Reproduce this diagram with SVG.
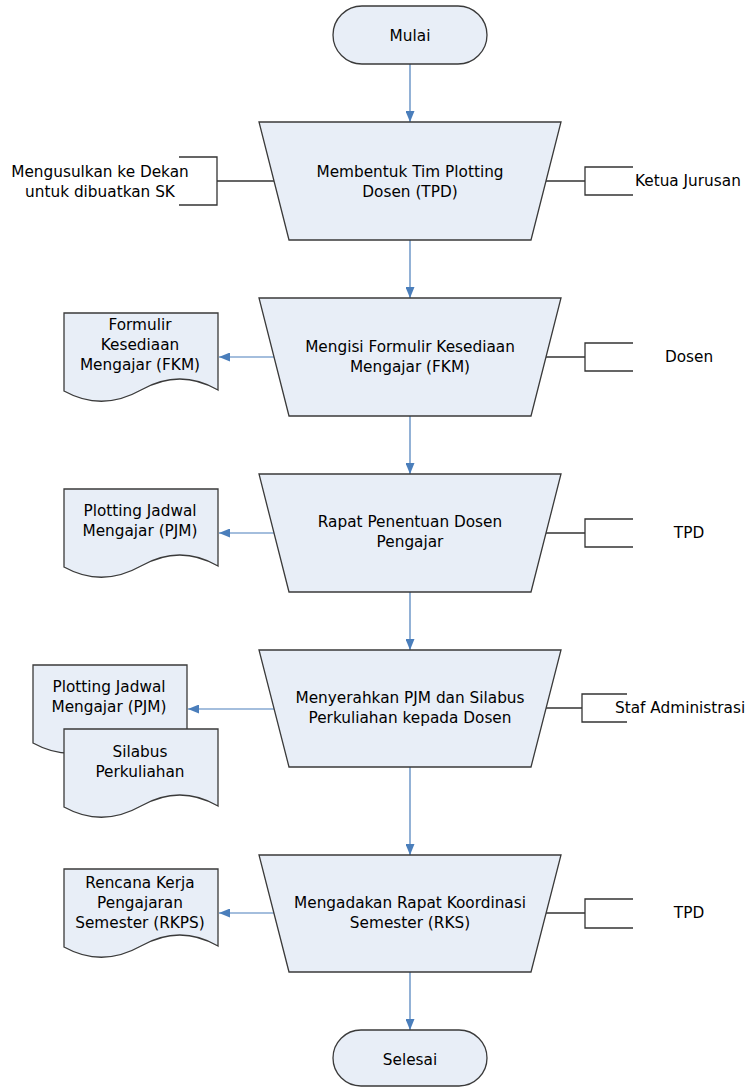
<svg xmlns="http://www.w3.org/2000/svg" width="749" height="1087" viewBox="0 0 749 1087">
<defs>
<marker id="ah" markerWidth="11" markerHeight="9" refX="11" refY="4.5" orient="auto" markerUnits="userSpaceOnUse">
<path d="M0,0 L11,4.5 L0,9 Z" fill="#4A7EBB"/>
</marker>
<path id="doc" d="M0,0 H154 V77 Q116,55 77,77 T0,78 Z"/>
</defs>
<style>
.shape{fill:#E8EEF7;stroke:#3a3a3a;stroke-width:1.3}
.flow{fill:none;stroke:#4A7EBB;stroke-width:1.2;marker-end:url(#ah)}
.brk{fill:none;stroke:#333;stroke-width:1.3}
text{font-family:"DejaVu Sans",Verdana,sans-serif;font-size:15.3px;fill:#000;text-anchor:middle;dominant-baseline:central}
.st{text-anchor:start}
</style>
<rect width="749" height="1087" fill="#fff"/>
<g id="connectors">
<line class="flow" x1="410" y1="64" x2="410" y2="122"/>
<line class="flow" x1="410" y1="240" x2="410" y2="298"/>
<line class="flow" x1="410" y1="416" x2="410" y2="474"/>
<line class="flow" x1="410" y1="592" x2="410" y2="650"/>
<line class="flow" x1="410" y1="767" x2="410" y2="855"/>
<line class="flow" x1="410" y1="972" x2="410" y2="1030"/>
<line class="flow" x1="274" y1="357" x2="219" y2="357"/>
<line class="flow" x1="274" y1="533" x2="219" y2="533"/>
<line class="flow" x1="274" y1="709" x2="188" y2="709"/>
<line class="flow" x1="274" y1="913" x2="219" y2="913"/>
<path class="brk" d="M274,181 H217 M179,157 H217 V205 H179"/>
<path class="brk" d="M546,181 H585 M633,167 H585 V195 H633"/>
<path class="brk" d="M546,357 H585 M633,343 H585 V371 H633"/>
<path class="brk" d="M546,533 H585 M633,519 H585 V547 H633"/>
<path class="brk" d="M546,708 H582 M627,694 H582 V722 H627"/>
<path class="brk" d="M546,913 H585 M633,899 H585 V928 H633"/>
</g>
<g id="mulai">
<rect class="shape" x="333" y="6" width="154" height="58" rx="29" ry="29"/>
<text x="410" y="36">Mulai</text>
</g>
<g id="p1">
<path class="shape" d="M259,122 H561 L531,240 H289 Z"/>
<text x="410" y="172">Membentuk Tim Plotting</text>
<text x="410" y="192">Dosen (TPD)</text>
</g>
<g id="a1">
<text x="100" y="172">Mengusulkan ke Dekan</text>
<text x="100" y="192">untuk dibuatkan SK</text>
</g>
<g id="r1"><text class="st" x="635" y="181">Ketua Jurusan</text></g>
<g id="p2">
<path class="shape" d="M259,298 H561 L531,416 H289 Z"/>
<text x="410" y="347">Mengisi Formulir Kesediaan</text>
<text x="410" y="367">Mengajar (FKM)</text>
</g>
<g id="d1">
<use href="#doc" class="shape" transform="translate(64,313)"/>
<text x="140" y="325">Formulir</text>
<text x="140" y="345">Kesediaan</text>
<text x="140" y="365">Mengajar (FKM)</text>
</g>
<g id="r2"><text x="689" y="357">Dosen</text></g>
<g id="p3">
<path class="shape" d="M259,474 H561 L531,592 H289 Z"/>
<text x="410" y="522">Rapat Penentuan Dosen</text>
<text x="410" y="542">Pengajar</text>
</g>
<g id="d2">
<use href="#doc" class="shape" transform="translate(64,489)"/>
<text x="140" y="511">Plotting Jadwal</text>
<text x="140" y="531">Mengajar (PJM)</text>
</g>
<g id="r3"><text x="689" y="533">TPD</text></g>
<g id="p4">
<path class="shape" d="M259,650 H561 L531,767 H289 Z"/>
<text x="410" y="698">Menyerahkan PJM dan Silabus</text>
<text x="410" y="718">Perkuliahan kepada Dosen</text>
</g>
<g id="d3">
<use href="#doc" class="shape" transform="translate(33,665)"/>
<text x="109" y="687">Plotting Jadwal</text>
<text x="109" y="707">Mengajar (PJM)</text>
</g>
<g id="d4">
<use href="#doc" class="shape" transform="translate(64,729)"/>
<text x="140" y="752">Silabus</text>
<text x="140" y="772">Perkuliahan</text>
</g>
<g id="r4"><text class="st" x="615" y="708">Staf Administrasi</text></g>
<g id="p5">
<path class="shape" d="M259,855 H561 L531,972 H289 Z"/>
<text x="410" y="903">Mengadakan Rapat Koordinasi</text>
<text x="410" y="923">Semester (RKS)</text>
</g>
<g id="d5">
<use href="#doc" class="shape" transform="translate(64,869)"/>
<text x="140" y="883">Rencana Kerja</text>
<text x="140" y="903">Pengajaran</text>
<text x="140" y="923">Semester (RKPS)</text>
</g>
<g id="r5"><text x="689" y="913">TPD</text></g>
<g id="selesai">
<rect class="shape" x="333" y="1030" width="154" height="56" rx="28" ry="28"/>
<text x="410" y="1060">Selesai</text>
</g>
</svg>
